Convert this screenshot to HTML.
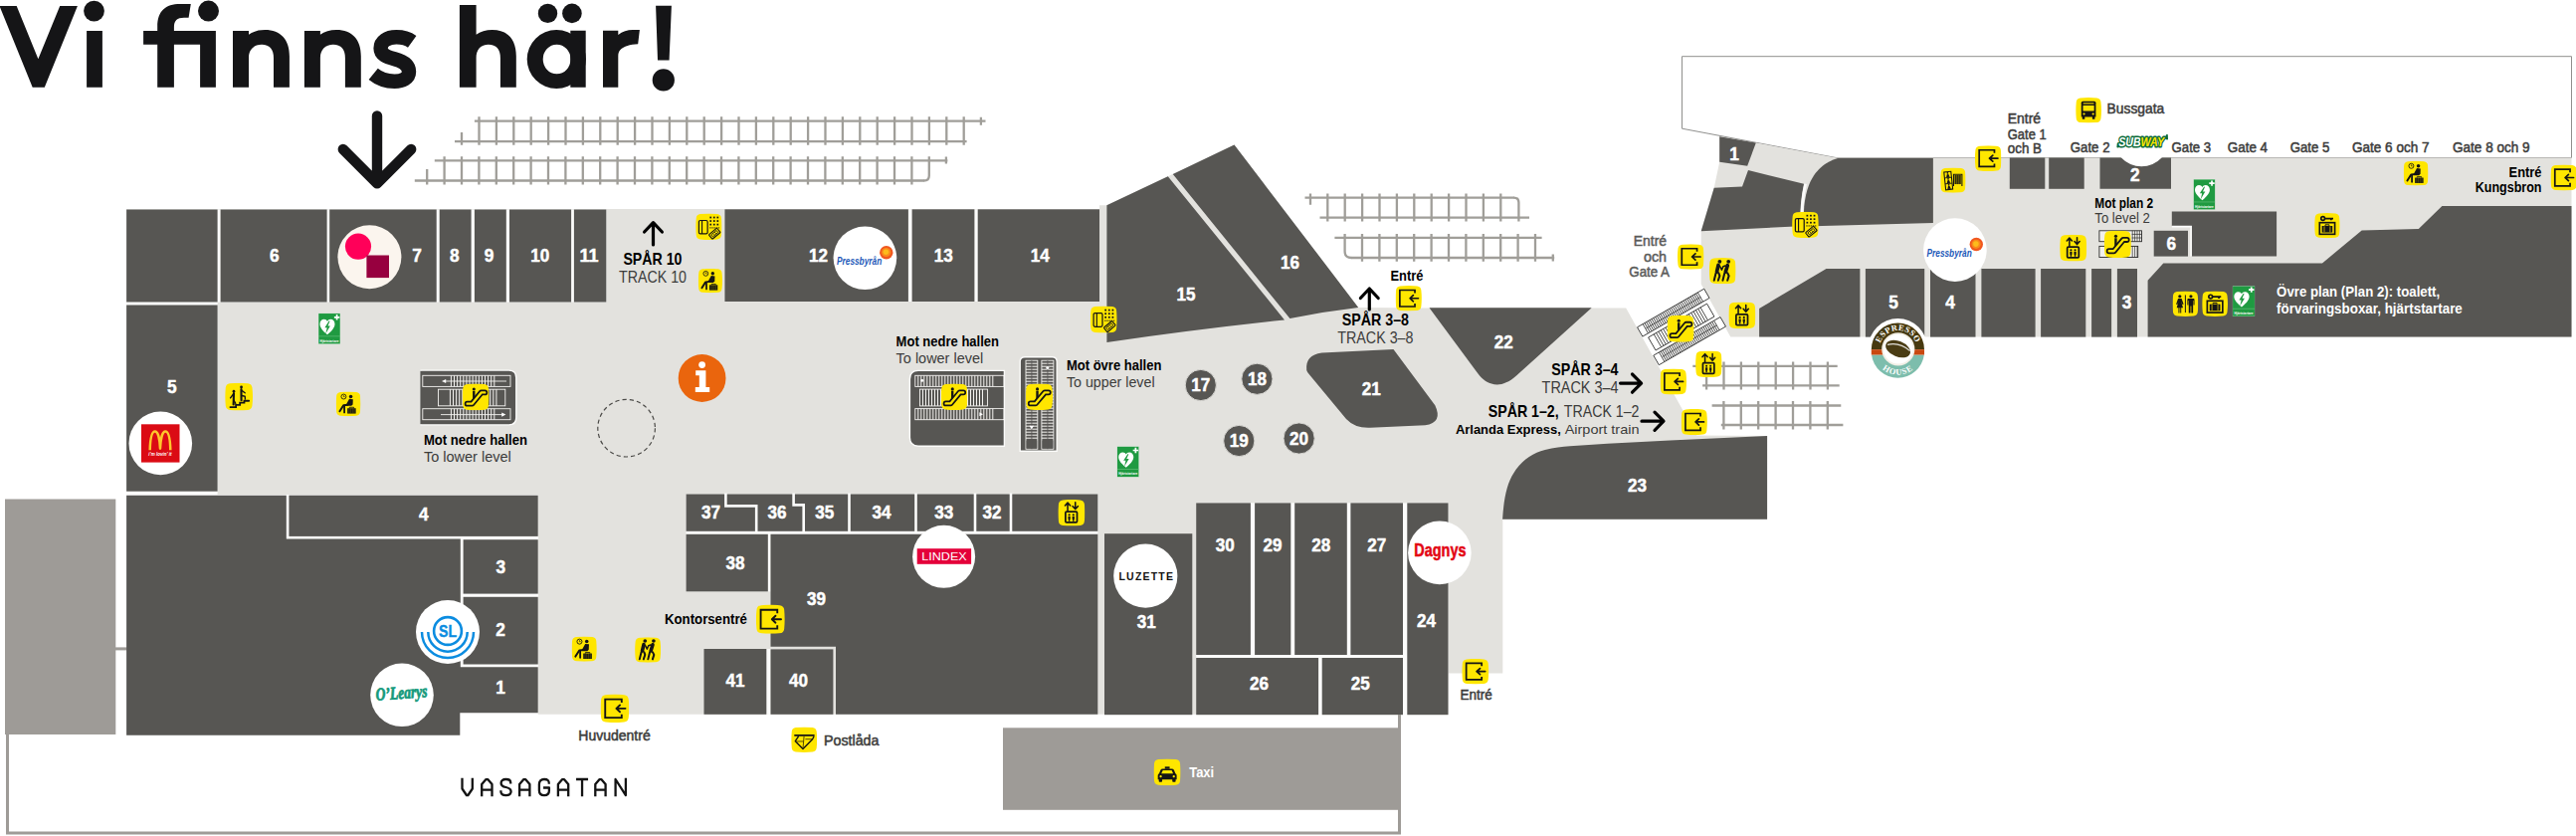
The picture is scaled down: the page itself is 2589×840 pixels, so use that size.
<!DOCTYPE html>
<html><head><meta charset="utf-8"><title>Vi finns här!</title>
<style>
html,body{margin:0;padding:0;background:#fff;}
body{width:2589px;height:840px;overflow:hidden;}
svg{display:block;font-family:"Liberation Sans",sans-serif;}
</style></head><body>
<svg width="2589" height="840" viewBox="0 0 2589 840">
<path d="M476.9 121.7H990.5M457 142.2H971.6M481.5 117.2V145.8M498.9 117.2V145.8M516.3 117.2V145.8M533.7 117.2V145.8M551.1 117.2V145.8M568.5 117.2V145.8M585.9 117.2V145.8M603.3 117.2V145.8M620.7 117.2V145.8M638.1 117.2V145.8M655.5 117.2V145.8M672.9 117.2V145.8M690.3 117.2V145.8M707.7 117.2V145.8M725.1 117.2V145.8M742.5 117.2V145.8M759.9 117.2V145.8M777.3 117.2V145.8M794.7 117.2V145.8M812.1 117.2V145.8M829.5 117.2V145.8M846.9 117.2V145.8M864.3 117.2V145.8M881.7 117.2V145.8M899.1 117.2V145.8M916.5 117.2V145.8M933.9 117.2V145.8M951.3 117.2V145.8M968.7 117.2V145.8M464 133V145.8M985.9 117.7V125.7" fill="none" stroke="#a09e99" stroke-width="2.3"/>
<path d="M436.8 161.3H952.4M416.8 181.5H929M446.6 157.2V185.5M464 157.2V185.5M481.4 157.2V185.5M498.8 157.2V185.5M516.2 157.2V185.5M533.6 157.2V185.5M551 157.2V185.5M568.4 157.2V185.5M585.8 157.2V185.5M603.2 157.2V185.5M620.6 157.2V185.5M638 157.2V185.5M655.4 157.2V185.5M672.8 157.2V185.5M690.2 157.2V185.5M707.6 157.2V185.5M725 157.2V185.5M742.4 157.2V185.5M759.8 157.2V185.5M777.2 157.2V185.5M794.6 157.2V185.5M812 157.2V185.5M829.4 157.2V185.5M846.8 157.2V185.5M864.2 157.2V185.5M881.6 157.2V185.5M899 157.2V185.5M916.4 157.2V185.5M429.2 170V185.5M950.9 157.4V164.5" fill="none" stroke="#a09e99" stroke-width="2.3"/>
<path d="M933.8 157.2V176.4Q933.8 181.5 928.6 181.5" fill="none" stroke="#a09e99" stroke-width="2.3"/>
<path d="M1311.5 198.6H1522M1326.5 218.6H1537M1334.3 194.4V222.5M1351.7 194.4V222.5M1369.1 194.4V222.5M1386.5 194.4V222.5M1403.9 194.4V222.5M1421.3 194.4V222.5M1438.7 194.4V222.5M1456.1 194.4V222.5M1473.5 194.4V222.5M1490.9 194.4V222.5M1508.3 194.4V222.5M1317 194.4V205.7" fill="none" stroke="#a09e99" stroke-width="2.3"/>
<path d="M1521.5 198.6Q1526.4 198.6 1526.4 203.6V222.5" fill="none" stroke="#a09e99" stroke-width="2.3"/>
<path d="M1341.4 238.9H1549.6M1358 259H1562.2M1369 235V262.8M1386.4 235V262.8M1403.8 235V262.8M1421.2 235V262.8M1438.6 235V262.8M1456 235V262.8M1473.4 235V262.8M1490.8 235V262.8M1508.2 235V262.8M1525.6 235V262.8M1543 235V262.8M1560.8 255.5V262.5" fill="none" stroke="#a09e99" stroke-width="2.3"/>
<path d="M1351.6 235V252.6Q1351.6 259 1358.2 259" fill="none" stroke="#a09e99" stroke-width="2.3"/>
<path d="M1701.3 367.8H1846.7M1711.1 387.3H1848.7M1715.1 363.4V391.4M1732.5 363.4V391.4M1749.9 363.4V391.4M1767.3 363.4V391.4M1784.7 363.4V391.4M1802.1 363.4V391.4M1819.5 363.4V391.4M1836.9 363.4V391.4" fill="none" stroke="#a09e99" stroke-width="2.3"/>
<path d="M1720.6 407.5H1850.3M1729.8 427H1852.4M1732.4 403V431.5M1749.8 403V431.5M1767.2 403V431.5M1784.6 403V431.5M1802 403V431.5M1819.4 403V431.5M1836.8 403V431.5" fill="none" stroke="#a09e99" stroke-width="2.3"/>
<rect x="5" y="501.5" width="111.3" height="236.5" fill="#9e9b97"/>
<rect x="116" y="650.4" width="11.5" height="3" fill="#9e9b97"/>
<path d="M7.5 738V837H1406.5V718" fill="none" stroke="#9e9b97" stroke-width="3"/>
<rect x="1008" y="731.3" width="399.9" height="82.5" fill="#9e9b97"/>
<path d="M1690.5 56.7H2584.5V158.5H1845.2L1690.5 129.2Z" fill="#fff" stroke="#8f8f8d" stroke-width="1"/>
<polygon points="127,210 1105,210 1105,206.3 1112.4,206.3 1173.8,177.3 1240.5,145.6 1365.2,308.9 1436,309.4 1634.2,309.4 1705.4,437.5 1776,438 1776,521.6 1510.3,521.6 1510.3,676.5 1455.5,676.5 1455.5,717.8 540.7,717.8 540.7,497 127,497" fill="#e3e2de"/>
<polygon points="1728.2,137.3 1764.8,143.4 1845.2,158.5 2584.5,158.5 2584.5,338.6 1739.3,338.6 1709.7,285.5 1709.7,232.3 1722.7,188.8 1728.2,162.7" fill="#e3e2de"/>
<circle cx="2152.3" cy="140" r="27.8" fill="#fff"/>
<rect x="127" y="210.5" width="482.3" height="93" fill="#fcfcfb"/>
<rect x="127" y="303" width="91.6" height="194.7" fill="#fcfcfb"/>
<rect x="290" y="497.7" width="250.7" height="218.6" fill="#fcfcfb"/>
<rect x="728.4" y="210.3" width="376.6" height="92.7" fill="#fcfcfb"/>
<rect x="689.6" y="496.5" width="413.7" height="40.5" fill="#fcfcfb"/>
<rect x="771.6" y="536.8" width="3" height="57.5" fill="#fcfcfb"/>
<rect x="770.2" y="652" width="4.4" height="65.8" fill="#fcfcfb"/>
<rect x="1202.2" y="505.4" width="253.3" height="212.8" fill="#fcfcfb"/>
<rect x="127.1" y="210.5" width="91.5" height="93" fill="#575653"/>
<rect x="221.6" y="210.5" width="107" height="93" fill="#575653"/>
<rect x="331.2" y="210.5" width="107.5" height="93" fill="#575653"/>
<rect x="441.7" y="210.5" width="31.9" height="93" fill="#575653"/>
<rect x="476.9" y="210.5" width="31.9" height="93" fill="#575653"/>
<rect x="512" y="210.5" width="62.1" height="93" fill="#575653"/>
<rect x="576.9" y="210.5" width="32.4" height="93" fill="#575653"/>
<rect x="728.4" y="210.3" width="184.5" height="92.7" fill="#575653"/>
<rect x="916.6" y="210.3" width="62.8" height="92.7" fill="#575653"/>
<rect x="982.7" y="210.3" width="122.3" height="92.7" fill="#575653"/>
<rect x="127.1" y="306.5" width="91.5" height="187.2" fill="#575653"/>
<polygon points="127.1,497.7 287.8,497.7 287.8,541.4 462.8,541.4 462.8,670.2 540.7,670.2 540.7,716.3 462.3,716.3 462.3,738.8 127.1,738.8" fill="#575653"/>
<rect x="290.4" y="497.7" width="250.3" height="41.2" fill="#575653"/>
<rect x="465.6" y="542.2" width="75.1" height="54.4" fill="#575653"/>
<rect x="465.6" y="599.8" width="75.1" height="67.7" fill="#575653"/>
<path d="M1112.4 206.3L1173.8 177.3L1291 321.4Q1200 331 1112.4 343.9Z" fill="#575653"/>
<path d="M1178.8 174.9L1240.5 145.6L1365.2 308.9Q1330 313 1296.4 320Z" fill="#575653"/>
<path d="M1313.2 372Q1311.5 356.5 1328.5 354.4L1400.5 351.1L1442.3 407.2Q1450.5 424.5 1432.3 427.3L1377 429.8Q1362 430.5 1353 421L1316.5 377Q1313.6 374 1313.2 372Z" fill="#575653"/>
<path d="M1436.5 309.2H1599.7L1524 377.6C1514 386.5 1506 387.6 1499 385.6C1492.5 383.6 1488.2 379.2 1484.2 373.7Z" fill="#575653"/>
<path d="M1510.1 521.7C1511.5 500 1514.5 486 1521.4 475.2C1529 463 1540 455.2 1552.8 452C1562 449.8 1570 448.8 1577.9 448.2L1615.6 445.7L1678.4 442.6L1776.1 437.9V521.7Z" fill="#575653"/>
<circle cx="1206.8" cy="387" r="15.6" fill="#575653" stroke="#d6d5d1" stroke-width="1"/>
<circle cx="1263.4" cy="380.8" r="15.6" fill="#575653" stroke="#d6d5d1" stroke-width="1"/>
<circle cx="1245.3" cy="443" r="15.6" fill="#575653" stroke="#d6d5d1" stroke-width="1"/>
<circle cx="1305.6" cy="440.5" r="15.6" fill="#575653" stroke="#d6d5d1" stroke-width="1"/>
<rect x="689.6" y="496.5" width="413.7" height="37.3" fill="#575653"/>
<path d="M729.4 495.5V508.4H760.2V535 M797.6 495.5V507.4H807.7V535 M853.5 495.5V535 M920.5 495.5V535 M980 495.5V535 M1016 495.5V535" fill="none" stroke="#fcfcfb" stroke-width="2.6"/>
<rect x="689.6" y="536.8" width="82.2" height="57.5" fill="#575653"/>
<polygon points="774.5,536.8 1103.3,536.8 1103.3,717.8 840,717.8 840,649.8 774.5,649.8" fill="#575653"/>
<rect x="774.5" y="652.4" width="62.9" height="65.4" fill="#575653"/>
<rect x="707.5" y="652" width="62.8" height="65.8" fill="#575653"/>
<rect x="1110" y="536.2" width="88.3" height="182" fill="#575653"/>
<rect x="1202.2" y="505.4" width="54.7" height="152.6" fill="#575653"/>
<rect x="1261.1" y="505.4" width="36.2" height="152.6" fill="#575653"/>
<rect x="1301.2" y="505.4" width="52.6" height="152.6" fill="#575653"/>
<rect x="1357.4" y="505.4" width="52.6" height="152.6" fill="#575653"/>
<rect x="1202.2" y="661" width="122.9" height="57.2" fill="#575653"/>
<rect x="1328.7" y="661" width="81.3" height="57.2" fill="#575653"/>
<rect x="1414.3" y="505.4" width="41.2" height="212.8" fill="#575653"/>
<polygon points="1728.2,137.3 1764.8,143.4 1756.2,166.8 1728.2,162.7" fill="#575653"/>
<path d="M1722.7 188.8L1751 187.4L1757 171L1813 184.7Q1808.5 205 1809.4 227.3L1709.7 232.3Z" fill="#575653"/>
<path d="M1813 227.6Q1810 170 1847 159.1H1942.9V224Z" fill="#575653"/>
<path d="M1814.6 184.7Q1810 205 1811.2 227.5" fill="none" stroke="#fbfbfa" stroke-width="2.6"/>
<rect x="2019.8" y="158.5" width="35.5" height="31.3" fill="#575653"/>
<rect x="2059.2" y="158.5" width="35.5" height="31.3" fill="#575653"/>
<path d="M2110.5 158.5H2132A27.8 27.8 0 0 0 2172.6 158.5H2182V189.7H2110.5Z" fill="#575653"/>
<rect x="2164.7" y="231.8" width="34.3" height="25.8" fill="#575653"/>
<polygon points="2182.8,212.4 2288.1,212.4 2288.1,257.6 2202.8,257.6 2202.8,226.9 2182.8,226.9" fill="#575653"/>
<path d="M2182.9 227.6H2202.1V257.6" fill="none" stroke="#fdfdfc" stroke-width="1.6"/>
<polygon points="1768.1,338.6 1768.1,310 1835.5,270 1869.4,270 1869.4,338.6" fill="#575653"/>
<rect x="1874.9" y="270" width="59.3" height="68.6" fill="#575653"/>
<rect x="1940" y="270" width="45.5" height="68.6" fill="#575653"/>
<rect x="1991.4" y="270" width="54.2" height="68.6" fill="#575653"/>
<rect x="2051.1" y="270" width="45.2" height="68.6" fill="#575653"/>
<rect x="2102.1" y="270" width="20" height="68.6" fill="#575653"/>
<rect x="2127.9" y="270" width="20.1" height="68.6" fill="#575653"/>
<polygon points="2158.6,338.6 2158.6,281.8 2174.3,264.4 2334,264.4 2373.7,231.6 2430.8,230.1 2454.4,206.9 2584.5,206.9 2584.5,338.6" fill="#575653"/>
<circle cx="629.6" cy="430.2" r="28.8" fill="none" stroke="#4b4a47" stroke-width="1.2" stroke-dasharray="4.2 3.1"/>
<defs>
<symbol id="entre" viewBox="0 0 26 26" preserveAspectRatio="none"><path d="M4.6 0.5Q13 -0.5 21.4 0.5Q25.1 0.9 25.5 4.6Q26.5 13 25.5 21.4Q25.1 25.1 21.4 25.5Q13 26.5 4.6 25.5Q0.9 25.1 0.5 21.4Q-0.5 13 0.5 4.6Q0.9 0.9 4.6 0.5Z" fill="#ffe600"/><path d="M19.2 7.6V4.6H4.2V21.4H19.2V18.4" fill="none" stroke="#151515" stroke-width="1.7" stroke-linejoin="miter"/><path d="M22.6 13H14.4M17.6 9.9L14.3 13L17.6 16.1" fill="none" stroke="#151515" stroke-linecap="round" stroke-linejoin="round" stroke-width="1.7"/></symbol>
<symbol id="lift" viewBox="0 0 26 26" preserveAspectRatio="none"><path d="M4.6 0.5Q13 -0.5 21.4 0.5Q25.1 0.9 25.5 4.6Q26.5 13 25.5 21.4Q25.1 25.1 21.4 25.5Q13 26.5 4.6 25.5Q0.9 25.1 0.5 21.4Q-0.5 13 0.5 4.6Q0.9 0.9 4.6 0.5Z" fill="#ffe600"/><rect x="7.2" y="12" width="11.2" height="10.4" rx="1" fill="none" stroke="#151515" stroke-width="1.7"/><path d="M9.3 11V3.4M6.8 6L9.3 3.1L11.8 6 M16.7 2.9V9.2M14.2 6.6L16.7 9.5L19.2 6.6" fill="none" stroke="#151515" stroke-linecap="round" stroke-linejoin="round" stroke-width="1.5"/><circle cx="10.8" cy="15" r="1.05" fill="#151515"/><circle cx="14.8" cy="15" r="1.05" fill="#151515"/><path d="M9.7 16.4h2.2v3h-.4v1.9h-1.4v-1.9h-.4z M13.7 16.4h2.2v3h-.4v1.9h-1.4v-1.9h-.4z" fill="#151515"/></symbol>
<symbol id="esc" viewBox="0 0 26 26" preserveAspectRatio="none"><path d="M4.6 0.5Q13 -0.5 21.4 0.5Q25.1 0.9 25.5 4.6Q26.5 13 25.5 21.4Q25.1 25.1 21.4 25.5Q13 26.5 4.6 25.5Q0.9 25.1 0.5 21.4Q-0.5 13 0.5 4.6Q0.9 0.9 4.6 0.5Z" fill="#ffe600"/><path d="M4.7 19.6H9.4L18.4 8.7H21.9" fill="none" stroke="#151515" stroke-width="5.7" stroke-linecap="round" stroke-linejoin="round"/><path d="M4.7 19.6H9.4L18.4 8.7H21.9" fill="none" stroke="#ffe600" stroke-width="2.3" stroke-linecap="round" stroke-linejoin="round"/><circle cx="11.2" cy="5.3" r="1.5" fill="#151515"/><path d="M10 7.2h2.3v5.6l-2.3 2.7z" fill="#151515"/></symbol>
<symbol id="wait" viewBox="0 0 26 26" preserveAspectRatio="none"><path d="M4.6 0.5Q13 -0.5 21.4 0.5Q25.1 0.9 25.5 4.6Q26.5 13 25.5 21.4Q25.1 25.1 21.4 25.5Q13 26.5 4.6 25.5Q0.9 25.1 0.5 21.4Q-0.5 13 0.5 4.6Q0.9 0.9 4.6 0.5Z" fill="#ffe600"/><circle cx="8.1" cy="5.3" r="2.6" fill="none" stroke="#151515" stroke-width="0.9"/><path d="M8.1 3.8V5.4H9.4" fill="none" stroke="#151515" stroke-width="0.7"/><circle cx="15.6" cy="5.2" r="1.85" fill="#151515"/><path d="M14 7.7L17.9 8.1L17.7 13.6L16.2 15.1H11.4L10.7 13.6Z" fill="#151515"/><path d="M12.4 13.9L7.9 14.4L3.9 20.7" fill="none" stroke="#151515" stroke-linecap="round" stroke-linejoin="round" stroke-width="2.1"/><path d="M8.8 15V22" fill="none" stroke="#151515" stroke-linecap="round" stroke-linejoin="round" stroke-width="1.9"/><rect x="12" y="17.6" width="8.9" height="5.6" fill="#151515"/><path d="M14.2 17.6V16.6H18.8V17.6" fill="none" stroke="#151515" stroke-width="0.9"/><path d="M13.8 18V23M15.6 18V23M17.4 18V23M19.2 18V23" stroke="#6e6400" stroke-width="0.6"/></symbol>
<symbol id="ticket" viewBox="0 0 26 26" preserveAspectRatio="none"><path d="M4.6 0.5Q13 -0.5 21.4 0.5Q25.1 0.9 25.5 4.6Q26.5 13 25.5 21.4Q25.1 25.1 21.4 25.5Q13 26.5 4.6 25.5Q0.9 25.1 0.5 21.4Q-0.5 13 0.5 4.6Q0.9 0.9 4.6 0.5Z" fill="#ffe600"/><rect x="3.2" y="6.8" width="8.6" height="13.2" rx="1.4" fill="none" stroke="#151515" stroke-width="1.2"/><path d="M6.3 6.8V20" stroke="#151515" stroke-width="1.1"/><rect x="14" y="3" width="1.7" height="1.7" fill="#151515"/><rect x="14" y="6.5" width="1.7" height="1.7" fill="#151515"/><rect x="14" y="10" width="1.7" height="1.7" fill="#151515"/><rect x="17.5" y="3" width="1.7" height="1.7" fill="#151515"/><rect x="17.5" y="6.5" width="1.7" height="1.7" fill="#151515"/><rect x="17.5" y="10" width="1.7" height="1.7" fill="#151515"/><rect x="21" y="3" width="1.7" height="1.7" fill="#151515"/><rect x="21" y="6.5" width="1.7" height="1.7" fill="#151515"/><rect x="21" y="10" width="1.7" height="1.7" fill="#151515"/><path d="M13.8 14.1H23.6" stroke="#151515" stroke-width="0.9" stroke-dasharray="1.4 0.7"/><g transform="rotate(-40 18.8 19.8)"><rect x="13.6" y="17" width="10.4" height="5.6" rx="0.8" fill="none" stroke="#151515" stroke-width="1.1"/><rect x="15.4" y="18.5" width="6.8" height="2.6" fill="none" stroke="#151515" stroke-width="0.8"/><path d="M17.6 18.5V21.1M19.8 18.5V21.1" stroke="#151515" stroke-width="0.6"/></g></symbol>
<symbol id="stairs" viewBox="0 0 26 26" preserveAspectRatio="none"><path d="M4.6 0.5Q13 -0.5 21.4 0.5Q25.1 0.9 25.5 4.6Q26.5 13 25.5 21.4Q25.1 25.1 21.4 25.5Q13 26.5 4.6 25.5Q0.9 25.1 0.5 21.4Q-0.5 13 0.5 4.6Q0.9 0.9 4.6 0.5Z" fill="#ffe600"/><path d="M4.9 22.8H10.2V20.7H14V18.7H18V16.9H22.4" fill="none" stroke="#151515" stroke-width="1.7" stroke-linecap="round"/><circle cx="8.2" cy="7.9" r="1.25" fill="#151515"/><path d="M8.2 9.6L7.9 20.4" fill="none" stroke="#151515" stroke-linecap="round" stroke-linejoin="round" stroke-width="2"/><path d="M7.8 10.6L5 14.2 M8 16L9.9 19.4" fill="none" stroke="#151515" stroke-linecap="round" stroke-linejoin="round" stroke-width="1.3"/><circle cx="15.3" cy="4" r="1.3" fill="#151515"/><path d="M15.2 6L15.3 16.4" fill="none" stroke="#151515" stroke-linecap="round" stroke-linejoin="round" stroke-width="2"/><path d="M15.6 7.2L18.7 9.4 M15.6 12L18.7 12.7L18.9 15.4" fill="none" stroke="#151515" stroke-linecap="round" stroke-linejoin="round" stroke-width="1.3"/></symbol>
<symbol id="people" viewBox="0 0 26 26" preserveAspectRatio="none"><path d="M4.6 0.5Q13 -0.5 21.4 0.5Q25.1 0.9 25.5 4.6Q26.5 13 25.5 21.4Q25.1 25.1 21.4 25.5Q13 26.5 4.6 25.5Q0.9 25.1 0.5 21.4Q-0.5 13 0.5 4.6Q0.9 0.9 4.6 0.5Z" fill="#ffe600"/><circle cx="10.2" cy="3.8" r="1.85" fill="#151515"/><circle cx="18.8" cy="3.8" r="1.85" fill="#151515"/><path d="M8.9 7.4L7.4 14 M17.9 7.6L16 14" fill="none" stroke="#151515" stroke-linecap="round" stroke-linejoin="round" stroke-width="3.6"/><path d="M6.4 15.6L4.7 22.6 M9.2 15.2L10.2 18L8.7 22.6 M14.9 15.6L13.2 22.6 M17.8 15.2L19.2 18L17.8 22.6" fill="none" stroke="#151515" stroke-linecap="round" stroke-linejoin="round" stroke-width="2"/><path d="M10.4 8.4L12.2 12.1L13.6 8.6L15.8 7.9" fill="none" stroke="#151515" stroke-linecap="round" stroke-linejoin="round" stroke-width="1.5"/></symbol>
<symbol id="gates" viewBox="0 0 26 26" preserveAspectRatio="none"><path d="M4.6 0.5Q13 -0.5 21.4 0.5Q25.1 0.9 25.5 4.6Q26.5 13 25.5 21.4Q25.1 25.1 21.4 25.5Q13 26.5 4.6 25.5Q0.9 25.1 0.5 21.4Q-0.5 13 0.5 4.6Q0.9 0.9 4.6 0.5Z" fill="#ffe600"/><g transform="rotate(-6 8.2 13.4)"><rect x="4.6" y="4.2" width="7.2" height="18.4" fill="none" stroke="#151515" stroke-width="1.1"/><path d="M4.6 10.3H11.8M4.6 16.4H11.8" stroke="#151515" stroke-width="0.9"/><circle cx="8.2" cy="5.6" r="0.9" fill="#151515"/><path d="M6.4 9.8L7.4 6.8H9L10 9.8Z" fill="#151515"/><circle cx="8.2" cy="11.7" r="0.9" fill="#151515"/><path d="M6.4 15.9L7.4 12.9H9L10 15.9Z" fill="#151515"/><circle cx="8.2" cy="17.8" r="0.9" fill="#151515"/><path d="M6.4 22L7.4 19H9L10 22Z" fill="#151515"/></g><path d="M13.6 19V6.9H22.2V19" fill="none" stroke="#151515" stroke-width="1.1"/><rect x="14.4" y="7.6" width="7" height="9.4" fill="#6e6400"/><path d="M15.8 7.6V17M17.9 7.6V17M20 7.6V17" stroke="#151515" stroke-width="0.8"/></symbol>
<symbol id="bus" viewBox="0 0 26 26" preserveAspectRatio="none"><path d="M4.6 0.5Q13 -0.5 21.4 0.5Q25.1 0.9 25.5 4.6Q26.5 13 25.5 21.4Q25.1 25.1 21.4 25.5Q13 26.5 4.6 25.5Q0.9 25.1 0.5 21.4Q-0.5 13 0.5 4.6Q0.9 0.9 4.6 0.5Z" fill="#ffe600"/><path d="M7.2 3.8H18.8Q20.4 3.8 20.4 5.4V19.8H5.6V5.4Q5.6 3.8 7.2 3.8Z" fill="#151515"/><rect x="6.6" y="19.4" width="2.6" height="2.8" rx="0.6" fill="#151515"/><rect x="16.8" y="19.4" width="2.6" height="2.8" rx="0.6" fill="#151515"/><rect x="7.6" y="5.5" width="10.8" height="1.1" fill="#ffe600"/><rect x="7.4" y="8" width="11.2" height="5.8" rx="0.6" fill="#ffe600"/><circle cx="8.4" cy="16.8" r="1.1" fill="#ffe600"/><circle cx="17.6" cy="16.8" r="1.1" fill="#ffe600"/></symbol>
<symbol id="taxi" viewBox="0 0 26 26" preserveAspectRatio="none"><path d="M4.6 0.5Q13 -0.5 21.4 0.5Q25.1 0.9 25.5 4.6Q26.5 13 25.5 21.4Q25.1 25.1 21.4 25.5Q13 26.5 4.6 25.5Q0.9 25.1 0.5 21.4Q-0.5 13 0.5 4.6Q0.9 0.9 4.6 0.5Z" fill="#ffe600"/><rect x="10.8" y="7.6" width="4.6" height="2.2" fill="#151515"/><path d="M8.6 9.6H17.6Q19 9.6 19.6 11L21 14.2Q22.2 14.8 22.2 16.2V20.2H4V16.2Q4 14.8 5.2 14.2L6.6 11Q7.2 9.6 8.6 9.6Z" fill="#151515"/><rect x="5" y="19.6" width="3.2" height="3" rx="0.8" fill="#151515"/><rect x="18" y="19.6" width="3.2" height="3" rx="0.8" fill="#151515"/><path d="M8.8 11.2H17.4L18.8 14.4H7.4Z" fill="#ffe600"/><circle cx="6.8" cy="17.2" r="1.1" fill="#ffe600"/><circle cx="19.4" cy="17.2" r="1.1" fill="#ffe600"/></symbol>
<symbol id="post" viewBox="0 0 26 26" preserveAspectRatio="none"><path d="M4.6 0.5Q13 -0.5 21.4 0.5Q25.1 0.9 25.5 4.6Q26.5 13 25.5 21.4Q25.1 25.1 21.4 25.5Q13 26.5 4.6 25.5Q0.9 25.1 0.5 21.4Q-0.5 13 0.5 4.6Q0.9 0.9 4.6 0.5Z" fill="#ffe600"/><path d="M3.1 8.5H23.4" stroke="#151515" stroke-width="1.6"/><path d="M7.5 9.2L4.1 14.4L11.8 22.4L21.4 12.4L22.9 9.4" fill="none" stroke="#151515" stroke-width="1.4" stroke-linejoin="round"/><path d="M4.6 14.7H12.6M14.2 12.4H20.9M12.9 9.3L11.8 22" fill="none" stroke="#3d3700" stroke-width="0.9"/></symbol>
<symbol id="wc" viewBox="0 0 26 26" preserveAspectRatio="none"><path d="M4.6 0.5Q13 -0.5 21.4 0.5Q25.1 0.9 25.5 4.6Q26.5 13 25.5 21.4Q25.1 25.1 21.4 25.5Q13 26.5 4.6 25.5Q0.9 25.1 0.5 21.4Q-0.5 13 0.5 4.6Q0.9 0.9 4.6 0.5Z" fill="#ffe600"/><path d="M13 4V22" stroke="#151515" stroke-width="1"/><circle cx="7.4" cy="5.4" r="1.6" fill="#151515"/><path d="M5.6 7.6H9.2L11.2 13.4L10 13.8L8.8 10.6L10.6 17H8.8V22.4H7.8V17H7V22.4H6V17H4.2L6 10.6L4.8 13.8L3.6 13.4Z" fill="#151515"/><circle cx="18.6" cy="5.4" r="1.6" fill="#151515"/><path d="M16 7.6H21.2Q22.2 7.6 22.2 8.6V14.2H21.2V9.6H20.8V22.4H19V15.4H18.2V22.4H16.4V9.6H16V14.2H15V8.6Q15 7.6 16 7.6Z" fill="#151515"/></symbol>
<symbol id="locker" viewBox="0 0 26 26" preserveAspectRatio="none"><path d="M4.6 0.5Q13 -0.5 21.4 0.5Q25.1 0.9 25.5 4.6Q26.5 13 25.5 21.4Q25.1 25.1 21.4 25.5Q13 26.5 4.6 25.5Q0.9 25.1 0.5 21.4Q-0.5 13 0.5 4.6Q0.9 0.9 4.6 0.5Z" fill="#ffe600"/><circle cx="8.6" cy="5.7" r="1.9" fill="none" stroke="#151515" stroke-width="1.7"/><path d="M10.4 5.7H19.2M17 5.7V7.6" stroke="#151515" stroke-width="1.8"/><rect x="5.2" y="10" width="15.6" height="12" fill="none" stroke="#151515" stroke-width="1.7"/><rect x="7.6" y="13.4" width="10.8" height="6.8" fill="#151515"/><path d="M11 13.4V12.2H15V13.4" fill="none" stroke="#151515" stroke-width="1"/><path d="M10 13.8V19.8M16 13.8V19.8" stroke="#ffe600" stroke-width="0.7"/></symbol>
<symbol id="aed" viewBox="0 0 22 31" preserveAspectRatio="none"><rect x="0" y="0" width="22" height="31" fill="#1f9a41" stroke="#dff0e2" stroke-width="0.5"/><path d="M9 21.4C3 16.4 1.5 13.4 1.5 10.6C1.5 7.8 3.5 6 5.7 6C7.3 6 8.4 6.8 9 8.1C9.6 6.8 10.7 6 12.3 6C14.5 6 16.5 7.8 16.5 10.6C16.5 13.4 15 16.4 9 21.4Z" fill="#fff"/><path d="M10.6 7.8L6.4 14.4H8.7L7.3 20.4L11.9 12.6H9.5L11.6 7.8Z" fill="#1f9a41"/><path d="M18.6 1.3V6.7M15.9 4H21.3" stroke="#fff" stroke-width="1.7"/><rect x="0" y="22.8" width="22" height="0.6" fill="#6cc27f"/><text x="1.6" y="29" font-size="3.6" font-weight="bold" fill="#fff" textLength="18.8" lengthAdjust="spacingAndGlyphs">Hjärtstartare</text></symbol>
</defs>
<path d="M423.2 372.1H511.5Q518.8 372.1 518.8 379.4V419.6Q518.8 426.9 511.5 426.9H423.2Z" fill="#575653" stroke="#fbfbfa" stroke-width="1.4"/>
<rect x="422.4" y="372.8" width="1.6" height="53.4" fill="#575653"/>
<rect x="424.8" y="377.3" width="88.2" height="11.1" fill="none" stroke="#f4f3f0" stroke-width="0.9"/>
<path d="M453.4 377.3V388.4M456.5 377.3V388.4M459.6 377.3V388.4M462.7 377.3V388.4M465.8 377.3V388.4M468.9 377.3V388.4M472 377.3V388.4M475.1 377.3V388.4M478.2 377.3V388.4M481.3 377.3V388.4M484.4 377.3V388.4M487.5 377.3V388.4M490.6 377.3V388.4M493.7 377.3V388.4M496.8 377.3V388.4" stroke="#f4f3f0" stroke-width="1.0" fill="none"/>
<path d="M509 383H447" stroke="#f4f3f0" stroke-width="0.9"/><path d="M444 383L448.2 380.9V385.1Z" fill="#fff"/>
<rect x="440.5" y="391.2" width="67.3" height="16.6" fill="none" stroke="#f4f3f0" stroke-width="0.9"/>
<path d="M452.4 391.2V407.8M455.5 391.2V407.8M458.6 391.2V407.8M461.7 391.2V407.8M464.8 391.2V407.8M467.9 391.2V407.8M471 391.2V407.8M474.1 391.2V407.8M477.2 391.2V407.8M480.3 391.2V407.8M483.4 391.2V407.8M486.5 391.2V407.8M489.6 391.2V407.8M492.7 391.2V407.8M495.8 391.2V407.8M498.9 391.2V407.8" stroke="#f4f3f0" stroke-width="1.0" fill="none"/>
<rect x="424.8" y="410.7" width="88.2" height="11" fill="none" stroke="#f4f3f0" stroke-width="0.9"/>
<path d="M453.4 410.7V421.7M456.5 410.7V421.7M459.6 410.7V421.7M462.7 410.7V421.7M465.8 410.7V421.7M468.9 410.7V421.7M472 410.7V421.7M475.1 410.7V421.7M478.2 410.7V421.7M481.3 410.7V421.7M484.4 410.7V421.7M487.5 410.7V421.7M490.6 410.7V421.7M493.7 410.7V421.7M496.8 410.7V421.7" stroke="#f4f3f0" stroke-width="1.0" fill="none"/>
<path d="M443 416.6H505" stroke="#f4f3f0" stroke-width="0.9"/><path d="M508.4 416.6L504.2 414.5V418.7Z" fill="#fff"/>
<use href="#esc" x="464.8" y="385.5" width="26.7" height="26.7"/>
<path d="M1009.4 372.4H923Q914.4 372.4 914.4 381V439.6Q914.4 448.2 923 448.2H1009.4Z" fill="#575653" stroke="#fbfbfa" stroke-width="1.4"/>
<rect x="919.8" y="377.3" width="89" height="11.1" fill="none" stroke="#f4f3f0" stroke-width="0.9"/>
<path d="M922.8 377.3V388.4M925.8 377.3V388.4M928.8 377.3V388.4M931.8 377.3V388.4M934.8 377.3V388.4M937.8 377.3V388.4M940.8 377.3V388.4M943.8 377.3V388.4M946.8 377.3V388.4M949.8 377.3V388.4M952.8 377.3V388.4M955.8 377.3V388.4M958.8 377.3V388.4M961.8 377.3V388.4M964.8 377.3V388.4M967.8 377.3V388.4M970.8 377.3V388.4M973.8 377.3V388.4M976.8 377.3V388.4M979.8 377.3V388.4M982.8 377.3V388.4M985.8 377.3V388.4M988.8 377.3V388.4M991.8 377.3V388.4M994.8 377.3V388.4M997.8 377.3V388.4" stroke="#f4f3f0" stroke-width="1.0" fill="none"/>
<rect x="1000.6" y="378" width="7.6" height="9.8" fill="#575653"/>
<rect x="924.5" y="391.1" width="68" height="16.8" fill="none" stroke="#f4f3f0" stroke-width="0.9"/>
<path d="M927.5 391.1V407.9M930.5 391.1V407.9M933.5 391.1V407.9M936.5 391.1V407.9M939.5 391.1V407.9M942.5 391.1V407.9M945.5 391.1V407.9M948.5 391.1V407.9M951.5 391.1V407.9M954.5 391.1V407.9M957.5 391.1V407.9M960.5 391.1V407.9M963.5 391.1V407.9M966.5 391.1V407.9M969.5 391.1V407.9M972.5 391.1V407.9M975.5 391.1V407.9M978.5 391.1V407.9M981.5 391.1V407.9M984.5 391.1V407.9M987.5 391.1V407.9" stroke="#f4f3f0" stroke-width="1.0" fill="none"/>
<rect x="919.8" y="410.6" width="89" height="11.1" fill="none" stroke="#f4f3f0" stroke-width="0.9"/>
<path d="M922.8 410.6V421.7M925.8 410.6V421.7M928.8 410.6V421.7M931.8 410.6V421.7M934.8 410.6V421.7M937.8 410.6V421.7M940.8 410.6V421.7M943.8 410.6V421.7M946.8 410.6V421.7M949.8 410.6V421.7M952.8 410.6V421.7M955.8 410.6V421.7M958.8 410.6V421.7M961.8 410.6V421.7M964.8 410.6V421.7M967.8 410.6V421.7M970.8 410.6V421.7M973.8 410.6V421.7M976.8 410.6V421.7M979.8 410.6V421.7M982.8 410.6V421.7M985.8 410.6V421.7M988.8 410.6V421.7M991.8 410.6V421.7M994.8 410.6V421.7M997.8 410.6V421.7" stroke="#f4f3f0" stroke-width="1.0" fill="none"/>
<rect x="1000.6" y="411.2" width="7.6" height="9.8" fill="#575653"/>
<circle cx="926.8" cy="382.4" r="1.4" fill="#fff"/><path d="M988 416.2L984.4 414.2V418.2Z" fill="#fff"/>
<use href="#esc" x="945.8" y="385.5" width="26.6" height="26.4"/>
<path d="M1025.2 453.2V363.6Q1025.2 358.8 1030 358.8H1057.4Q1062.2 358.8 1062.2 363.6V453.2Z" fill="#575653" stroke="#fbfbfa" stroke-width="1.4"/>
<rect x="1031" y="362.2" width="11.8" height="89" fill="none" stroke="#f4f3f0" stroke-width="0.9"/>
<path d="M1031 365.2H1042.8M1031 368.2H1042.8M1031 371.2H1042.8M1031 374.2H1042.8M1031 377.2H1042.8M1031 380.2H1042.8M1031 383.2H1042.8M1031 386.2H1042.8M1031 389.2H1042.8M1031 392.2H1042.8M1031 395.2H1042.8M1031 398.2H1042.8M1031 401.2H1042.8M1031 404.2H1042.8M1031 407.2H1042.8M1031 410.2H1042.8M1031 413.2H1042.8M1031 416.2H1042.8M1031 419.2H1042.8M1031 422.2H1042.8M1031 425.2H1042.8M1031 428.2H1042.8M1031 431.2H1042.8M1031 434.2H1042.8M1031 437.2H1042.8M1031 440.2H1042.8" stroke="#f4f3f0" stroke-width="1.0" fill="none"/>
<rect x="1031.6" y="442.6" width="10.6" height="8" fill="#575653"/>
<rect x="1046.9" y="362.2" width="12" height="89" fill="none" stroke="#f4f3f0" stroke-width="0.9"/>
<path d="M1046.9 365.2H1058.9M1046.9 368.2H1058.9M1046.9 371.2H1058.9M1046.9 374.2H1058.9M1046.9 377.2H1058.9M1046.9 380.2H1058.9M1046.9 383.2H1058.9M1046.9 386.2H1058.9M1046.9 389.2H1058.9M1046.9 392.2H1058.9M1046.9 395.2H1058.9M1046.9 398.2H1058.9M1046.9 401.2H1058.9M1046.9 404.2H1058.9M1046.9 407.2H1058.9M1046.9 410.2H1058.9M1046.9 413.2H1058.9M1046.9 416.2H1058.9M1046.9 419.2H1058.9M1046.9 422.2H1058.9M1046.9 425.2H1058.9M1046.9 428.2H1058.9M1046.9 431.2H1058.9M1046.9 434.2H1058.9M1046.9 437.2H1058.9M1046.9 440.2H1058.9" stroke="#f4f3f0" stroke-width="1.0" fill="none"/>
<rect x="1047.5" y="442.6" width="10.8" height="8" fill="#575653"/>
<path d="M1036.9 362.2V451.2M1052.9 362.2V451.2" stroke="#575653" stroke-width="0.8"/>
<circle cx="1052.8" cy="369.4" r="1.5" fill="#fff"/><path d="M1036.8 431.4L1034.6 427.8H1039Z" fill="#fff"/>
<use href="#esc" x="1030.9" y="385.5" width="27.1" height="26.4"/>
<g transform="translate(1689.1 330.4) rotate(-29.9)">
<rect x="-37" y="-23.1" width="77.5" height="10.7" fill="#fff" stroke="#2b2b2a" stroke-width="0.8"/>
<path d="M-30.5 -23.1V-12.4M-28.4 -23.1V-12.4M-26.4 -23.1V-12.4M-24.3 -23.1V-12.4M-22.3 -23.1V-12.4M-20.2 -23.1V-12.4M-18.2 -23.1V-12.4M-16.1 -23.1V-12.4M-14.1 -23.1V-12.4M-12 -23.1V-12.4M-10 -23.1V-12.4M-7.9 -23.1V-12.4M-5.9 -23.1V-12.4M-3.8 -23.1V-12.4M-1.8 -23.1V-12.4M0.3 -23.1V-12.4M2.3 -23.1V-12.4M4.4 -23.1V-12.4M6.4 -23.1V-12.4M8.5 -23.1V-12.4M10.5 -23.1V-12.4M12.6 -23.1V-12.4M14.6 -23.1V-12.4M16.7 -23.1V-12.4M18.7 -23.1V-12.4M20.8 -23.1V-12.4M22.8 -23.1V-12.4M24.9 -23.1V-12.4M26.9 -23.1V-12.4M29 -23.1V-12.4M31 -23.1V-12.4M33.1 -23.1V-12.4" stroke="#2b2b2a" stroke-width="0.75" fill="none"/>
<rect x="-32.5" y="-8.7" width="68" height="14.9" fill="#fff" stroke="#2b2b2a" stroke-width="0.8"/>
<path d="M-26 -8.7V6.2M-23.3 -8.7V6.2M-20.6 -8.7V6.2M-17.9 -8.7V6.2M-15.2 -8.7V6.2M-12.5 -8.7V6.2M-9.8 -8.7V6.2M-7.1 -8.7V6.2M-4.4 -8.7V6.2M-1.7 -8.7V6.2M1 -8.7V6.2M3.7 -8.7V6.2M6.4 -8.7V6.2M9.1 -8.7V6.2M11.8 -8.7V6.2M14.5 -8.7V6.2M17.2 -8.7V6.2M19.9 -8.7V6.2M22.6 -8.7V6.2M25.3 -8.7V6.2M28 -8.7V6.2" stroke="#2b2b2a" stroke-width="0.75" fill="none"/>
<rect x="-37" y="9.6" width="77.5" height="11" fill="#fff" stroke="#2b2b2a" stroke-width="0.8"/>
<path d="M-30.5 9.6V20.6M-28.4 9.6V20.6M-26.4 9.6V20.6M-24.3 9.6V20.6M-22.3 9.6V20.6M-20.2 9.6V20.6M-18.2 9.6V20.6M-16.1 9.6V20.6M-14.1 9.6V20.6M-12 9.6V20.6M-10 9.6V20.6M-7.9 9.6V20.6M-5.9 9.6V20.6M-3.8 9.6V20.6M-1.8 9.6V20.6M0.3 9.6V20.6M2.3 9.6V20.6M4.4 9.6V20.6M6.4 9.6V20.6M8.5 9.6V20.6M10.5 9.6V20.6M12.6 9.6V20.6M14.6 9.6V20.6M16.7 9.6V20.6M18.7 9.6V20.6M20.8 9.6V20.6M22.8 9.6V20.6M24.9 9.6V20.6M26.9 9.6V20.6M29 9.6V20.6M31 9.6V20.6M33.1 9.6V20.6" stroke="#2b2b2a" stroke-width="0.75" fill="none"/>
<path d="M-30 -17.7H33.5M-30 15.1H33.5" stroke="#2b2b2a" stroke-width="0.6"/>
</g>
<use href="#esc" x="1675.6" y="316.8" width="27" height="27"/>
<rect x="2109.9" y="231.8" width="42.6" height="10.9" fill="#f1f0ed" stroke="#2b2b2a" stroke-width="0.9"/>
<rect x="2109.9" y="247.4" width="38.8" height="11.1" fill="#f1f0ed" stroke="#2b2b2a" stroke-width="0.9"/>
<path d="M2143.2 231.8V242.7M2145.6 231.8V242.7M2148 231.8V242.7M2150.4 231.8V242.7M2142.6 235.4H2152.5M2142.6 239H2152.5 M2143.2 247.4V258.5M2145.6 247.4V258.5M2148 247.4V258.5" fill="none" stroke="#2b2b2a" stroke-width="0.7"/>
<use href="#esc" x="2114.8" y="231.8" width="27.1" height="27.2"/>
<use href="#ticket" x="699.2" y="214.6" width="26.3" height="26.4"/>
<use href="#wait" x="701.8" y="269.9" width="24.2" height="24.3"/>
<use href="#aed" x="320" y="314.8" width="22" height="31"/>
<use href="#stairs" x="226.2" y="384.7" width="27.8" height="27.8"/>
<use href="#wait" x="337.7" y="393.5" width="24.8" height="24.7"/>
<use href="#ticket" x="1095.8" y="307.6" width="26.9" height="26.9"/>
<use href="#aed" x="1122.7" y="448.5" width="22.1" height="30.9"/>
<use href="#lift" x="1063.4" y="501.9" width="27" height="26.6"/>
<use href="#entre" x="759.9" y="607.6" width="28.9" height="29.2"/>
<use href="#wait" x="574.6" y="639.5" width="25.2" height="25.2"/>
<use href="#people" x="638.1" y="640.3" width="26" height="25.4"/>
<use href="#entre" x="603.6" y="697.6" width="28.7" height="28.5"/>
<use href="#post" x="795.2" y="730.6" width="26" height="25.4"/>
<use href="#taxi" x="1159.5" y="762.5" width="27.1" height="26.8"/>
<use href="#entre" x="1469.3" y="661.9" width="26.9" height="25.5"/>
<use href="#entre" x="1402.6" y="287" width="26.3" height="25.5"/>
<use href="#entre" x="1668.6" y="370.4" width="26.4" height="26"/>
<use href="#entre" x="1689.7" y="410.9" width="26.2" height="26.1"/>
<use href="#lift" x="1704.1" y="352.5" width="26.5" height="26.5"/>
<use href="#lift" x="1737.4" y="303.6" width="27" height="26.6"/>
<use href="#entre" x="1686" y="245.2" width="26.5" height="25.6"/>
<use href="#people" x="1717.9" y="259" width="26.7" height="26.2"/>
<use href="#ticket" x="1801.1" y="212.8" width="26.7" height="26.1"/>
<use href="#gates" x="1950.2" y="168.5" width="25.4" height="25.3"/>
<use href="#entre" x="1984.9" y="146.2" width="26.5" height="25.8"/>
<use href="#bus" x="2086.2" y="98" width="25.8" height="25.6"/>
<use href="#aed" x="2204.5" y="180.1" width="21.9" height="30.7"/>
<use href="#lift" x="2070.2" y="235.8" width="27" height="26.8"/>
<use href="#wc" x="2183.5" y="292.5" width="25.8" height="25.5"/>
<use href="#locker" x="2213.2" y="292.5" width="25.8" height="25.5"/>
<use href="#aed" x="2243.8" y="287.2" width="22.4" height="30.8"/>
<use href="#locker" x="2326.2" y="214" width="25.5" height="25.2"/>
<use href="#wait" x="2415.7" y="161.7" width="24.8" height="24.9"/>
<use href="#entre" x="2563.5" y="165.6" width="26.5" height="25.8"/>
<circle cx="705.6" cy="380" r="23.9" fill="#ea650d"/><circle cx="705.6" cy="366.6" r="3.4" fill="#fff"/>
<path d="M699.2 372.2H709.4V389H713.2V394.1H698.8V389H702.8V377.3H699.2Z" fill="#fff"/>
<circle cx="371.4" cy="258.3" r="32" fill="#fbf5ee"/><circle cx="360" cy="247.7" r="13.1" fill="#ff0059"/><rect x="368.4" y="256.5" width="22.6" height="22.6" fill="#97003f"/>
<circle cx="161.3" cy="445.4" r="31.8" fill="#fff"/><rect x="142" y="426.3" width="38.5" height="38.3" fill="#db0b14"/>
<path d="M150.7 452.2C151 440 152.9 433.4 155.8 433.4C158.8 433.4 160.6 441 161 450.6C161.4 441 163.2 433.4 166.2 433.4C169.1 433.4 171 440 171.3 452.2" fill="none" stroke="#ffc72c" stroke-width="2.5" stroke-linejoin="round"/>
<text x="149.2" y="458.3" font-size="4.6" font-weight="bold" font-style="italic" fill="#fff" textLength="23.4" lengthAdjust="spacingAndGlyphs">i’m lovin’ it</text>
<circle cx="450" cy="635" r="32" fill="#fff"/><circle cx="450" cy="634" r="13.9" fill="none" stroke="#0b8ce0" stroke-width="2.6"/>
<path d="M430.3 635A19.7 19.7 0 0 0 469.7 635 M424 635A26 26 0 0 0 476 635" fill="none" stroke="#0b8ce0" stroke-width="2.5"/>
<text x="450" y="639.8" font-size="16" font-weight="bold" fill="#0b8ce0" stroke="#0b8ce0" stroke-width="0.4" text-anchor="middle" textLength="18" lengthAdjust="spacingAndGlyphs">SL</text>
<circle cx="404" cy="698.3" r="31.8" fill="#fff"/>
<text x="377.6" y="702" font-family="Liberation Serif,serif" font-style="italic" font-weight="bold" font-size="18" fill="#149a7c" stroke="#149a7c" stroke-width="0.8" textLength="52" lengthAdjust="spacingAndGlyphs" transform="rotate(-4 404 698)">O’Learys</text>
<circle cx="869.4" cy="259.3" r="31.8" fill="#fff"/>
<circle cx="890.8" cy="253.7" r="6.7" fill="#f1571f"/><circle cx="890.6" cy="253.5" r="4.6" fill="#f88a1c"/><circle cx="890.4" cy="253.3" r="2.8" fill="#fdbb1c"/>
<text x="841" y="266.4" font-style="italic" font-weight="bold" font-size="10.2" fill="#1c58b8" textLength="45.2" lengthAdjust="spacingAndGlyphs">Pressbyrån</text>
<circle cx="1964.9" cy="251.1" r="31.8" fill="#fff"/>
<circle cx="1986.3" cy="245.5" r="6.7" fill="#f1571f"/><circle cx="1986.1" cy="245.3" r="4.6" fill="#f88a1c"/><circle cx="1985.9" cy="245.1" r="2.8" fill="#fdbb1c"/>
<text x="1936.5" y="258.2" font-style="italic" font-weight="bold" font-size="10.2" fill="#1c58b8" textLength="45.2" lengthAdjust="spacingAndGlyphs">Pressbyrån</text>
<circle cx="948.6" cy="559.3" r="31.5" fill="#fff"/><rect x="921.7" y="551.2" width="54.4" height="15.6" fill="#e4003a"/>
<text x="926.2" y="563.2" font-size="11.5" fill="#fff" textLength="45.6" lengthAdjust="spacingAndGlyphs">LINDEX</text>
<circle cx="1151.3" cy="578.7" r="32.1" fill="#fff"/>
<text x="1124.5" y="583" font-size="10.5" font-weight="bold" fill="#111" textLength="54.5" lengthAdjust="spacing">LUZETTE</text>
<circle cx="1446.9" cy="555.4" r="31.8" fill="#fff"/>
<text x="1421.3" y="558.8" font-size="17.8" font-weight="bold" fill="#e30613" stroke="#e30613" stroke-width="0.5" textLength="52.2" lengthAdjust="spacingAndGlyphs">Dagnys</text>
<circle cx="1907.4" cy="349.6" r="29.6" fill="#fff"/>
<path d="M1880.8 351.2A26.6 26.6 0 0 1 1934 351.2Z" fill="#47390f"/>
<path d="M1881 356.4A26.6 26.6 0 0 0 1933.8 356.4Z" fill="#7dbdac"/>
<rect x="1880.8" y="351.2" width="53.2" height="5.3" fill="#c9480f"/>
<circle cx="1907.8" cy="350.8" r="16.6" fill="#f2efe6"/><circle cx="1907.8" cy="350.8" r="14.8" fill="#fff"/>
<ellipse cx="1907.6" cy="350.6" rx="13" ry="7.8" fill="#4a3c14" transform="rotate(22 1907.6 350.6)"/>
<path d="M1897 346.4Q1909 343.4 1919.6 352.6" fill="none" stroke="#fff" stroke-width="1.1" opacity="0.85"/>
<path id="ehTop" d="M1888.8 350.8A18.9 18.9 0 0 1 1926.6 350.8" fill="none"/><path id="ehBot" d="M1884 357A24 24 0 0 0 1931.2 357" fill="none"/>
<text font-family="Liberation Serif,serif" font-weight="bold" font-size="8.4" fill="#fff" letter-spacing="0.5"><textPath href="#ehTop" startOffset="50%" text-anchor="middle">ESPRESSO</textPath></text>
<text font-family="Liberation Serif,serif" font-weight="bold" font-size="8.4" fill="#fff" letter-spacing="1"><textPath href="#ehBot" startOffset="50%" text-anchor="middle">HOUSE</textPath></text>
<path d="M2128.6 144.2L2131.8 146.8L2128.2 147.6Z M2176.2 138.6L2178 135.6L2178.2 139.8Z" fill="#0b6b3a" stroke="#0b6b3a" stroke-width="1.6" stroke-linejoin="round"/>
<text x="2129.2" y="147.2" fill="#fff" textLength="22.6" font-size="13.6" font-weight="bold" font-style="italic" stroke="#0b6b3a" stroke-width="3" paint-order="stroke" stroke-linejoin="round" lengthAdjust="spacingAndGlyphs">SUB</text>
<text x="2151.6" y="147.2" fill="#ffe600" textLength="23.6" font-size="13.6" font-weight="bold" font-style="italic" stroke="#0b6b3a" stroke-width="3" paint-order="stroke" stroke-linejoin="round" lengthAdjust="spacingAndGlyphs">WAY</text>
<path d="M-0.5 6H16.7L38.4 59.2L60.2 6H77.9L44.8 87.8H32.7ZM87.1 31.1H102.9V87.8H87.1ZM158.2 87.8V27C158.2 11 166.5 4.1 181 4.1H191.8L189.6 17.7H185C178 17.7 174.9 20.6 174.9 27.4V31.1H216.9V87.8H201.1V44.8H174.9V87.8ZM144.1 31.1H158.2V44.8H144.1ZM234 87.8V31.1H250V34.8C254.2 31.8 259.7 30.1 266.2 30.1C282.2 30.1 290.9 40 290.9 56.5V87.8H275V58.5C275 49.5 271 44.8 263 44.8C255.3 44.8 250 50 250 58V87.8ZM305.9 87.8V31.1H321.9V34.8C326.1 31.8 331.6 30.1 338.1 30.1C354.1 30.1 362.8 40 362.8 56.5V87.8H346.9V58.5C346.9 49.5 342.9 44.8 334.9 44.8C327.2 44.8 321.9 50 321.9 58V87.8ZM461.9 87.8V5.1H478.6V34.8C482.8 31.8 488.3 30.1 494.8 30.1C510.8 30.1 518.8 40 518.8 56.5V87.8H502.9V58.5C502.9 49.5 498.9 44.8 490.9 44.8C483.2 44.8 478.6 50 478.6 58V87.8ZM573.3 30.7H588.7V87.8H573.3ZM606 87.8V30.7H621.3V34.9C625.5 31.8 630.5 30.2 636 30.1H642.9L641.2 44.2C633 44.5 627 46.5 623.5 50C622 51.5 621.3 53.5 621.3 56V87.8ZM659.1 5.8H674.9L672.6 60.5H661Z" fill="#151517"/>
<path fill-rule="evenodd" d="M529.7 59.55A29.6 29.45 0 1 0 588.9 59.55A29.6 29.45 0 1 0 529.7 59.55ZM545.7 59.55A13.9 14.75 0 1 0 573.5 59.55A13.9 14.75 0 1 0 545.7 59.55Z" fill="#151517"/>
<path d="M414.2 41.8C409.5 38.4 404 37.3 398.4 37.3C389 37.3 382.6 41.8 382.6 48.6C382.6 55 388.5 57.2 396.5 59.3C405 61.6 411 64.8 411 72C411 78.6 404.5 81.7 396.5 81.7C388.5 81.7 381 79.2 375.2 74.4" fill="none" stroke="#151517" stroke-width="14.4"/>
<circle cx="94.5" cy="11.1" r="10.4" fill="#151517"/>
<circle cx="209.5" cy="11.1" r="10.5" fill="#151517"/>
<circle cx="550.5" cy="13.4" r="9.7" fill="#151517"/>
<circle cx="574.9" cy="13.4" r="9.8" fill="#151517"/>
<circle cx="666.8" cy="80.4" r="11.1" fill="#151517"/>
<path d="M379 116.5V183 M344.8 150L379 184.2L413.2 150" fill="none" stroke="#151517" stroke-width="10.4" stroke-linecap="round" stroke-linejoin="round"/>
<text x="626.4" y="265.8" font-size="15.7" font-weight="bold" fill="#000" textLength="59" lengthAdjust="spacingAndGlyphs">SPÅR 10</text>
<text x="622" y="283.7" font-size="15.7" fill="#3c3c3b" textLength="68" lengthAdjust="spacingAndGlyphs">TRACK 10</text>
<text x="425.9" y="446.7" font-size="14" font-weight="bold" fill="#000" textLength="104.1" lengthAdjust="spacingAndGlyphs">Mot nedre hallen</text>
<text x="425.9" y="463.8" font-size="14" fill="#3c3c3b" textLength="87.9" lengthAdjust="spacingAndGlyphs">To lower level</text>
<text x="900.6" y="347.8" font-size="14" font-weight="bold" fill="#000" textLength="103.4" lengthAdjust="spacingAndGlyphs">Mot nedre hallen</text>
<text x="900.6" y="364.6" font-size="14" fill="#3c3c3b" textLength="87.6" lengthAdjust="spacingAndGlyphs">To lower level</text>
<text x="1071.9" y="372.2" font-size="14" font-weight="bold" fill="#000" textLength="95.5" lengthAdjust="spacingAndGlyphs">Mot övre hallen</text>
<text x="1071.9" y="389.2" font-size="14" fill="#3c3c3b" textLength="88.7" lengthAdjust="spacingAndGlyphs">To upper level</text>
<text x="1397.5" y="282" font-size="14" font-weight="bold" fill="#000" textLength="32.9" lengthAdjust="spacingAndGlyphs">Entré</text>
<text x="1348.7" y="327.4" font-size="15.7" font-weight="bold" fill="#000" textLength="67.3" lengthAdjust="spacingAndGlyphs">SPÅR 3–8</text>
<text x="1344.3" y="345.4" font-size="15.7" fill="#3c3c3b" textLength="76.2" lengthAdjust="spacingAndGlyphs">TRACK 3–8</text>
<text x="1559.2" y="377.3" font-size="15.7" font-weight="bold" fill="#000" textLength="67.3" lengthAdjust="spacingAndGlyphs">SPÅR 3–4</text>
<text x="1549.6" y="395.3" font-size="15.7" fill="#3c3c3b" textLength="76.9" lengthAdjust="spacingAndGlyphs">TRACK 3–4</text>
<text x="1495.8" y="418.6" font-size="15.7" font-weight="bold" fill="#000" textLength="70.9" lengthAdjust="spacingAndGlyphs">SPÅR 1–2,</text>
<text x="1571.8" y="418.6" font-size="15.7" fill="#3c3c3b" textLength="75.7" lengthAdjust="spacingAndGlyphs">TRACK 1–2</text>
<text x="1462.9" y="436" font-size="13.2" font-weight="bold" fill="#000" textLength="105.9" lengthAdjust="spacingAndGlyphs">Arlanda Express,</text>
<text x="1572.7" y="436" font-size="13.2" fill="#3c3c3b" textLength="74.8" lengthAdjust="spacingAndGlyphs">Airport train</text>
<text x="1641.8" y="247.3" font-size="14" fill="#5b5b5a" textLength="33.2" lengthAdjust="spacingAndGlyphs" stroke="#5b5b5a" stroke-width="0.5">Entré</text>
<text x="1652" y="263.2" font-size="14" fill="#5b5b5a" textLength="23" lengthAdjust="spacingAndGlyphs" stroke="#5b5b5a" stroke-width="0.5">och</text>
<text x="1637.3" y="277.8" font-size="14" fill="#5b5b5a" textLength="40.7" lengthAdjust="spacingAndGlyphs" stroke="#5b5b5a" stroke-width="0.5">Gate A</text>
<text x="668" y="627.4" font-size="14" font-weight="bold" fill="#000" textLength="82.9" lengthAdjust="spacingAndGlyphs">Kontorsentré</text>
<text x="581.3" y="744" font-size="14" fill="#3c3c3b" textLength="72.4" lengthAdjust="spacingAndGlyphs" stroke="#3c3c3b" stroke-width="0.5">Huvudentré</text>
<text x="828" y="748.5" font-size="14" fill="#3c3c3b" textLength="55.4" lengthAdjust="spacingAndGlyphs" stroke="#3c3c3b" stroke-width="0.5">Postlåda</text>
<text x="1195.2" y="781.3" font-size="14" font-weight="bold" fill="#fff" textLength="25" lengthAdjust="spacingAndGlyphs">Taxi</text>
<text x="1467.5" y="702.9" font-size="14" fill="#3c3c3b" textLength="32.3" lengthAdjust="spacingAndGlyphs" stroke="#3c3c3b" stroke-width="0.5">Entré</text>
<text x="2017.8" y="124.2" font-size="14" fill="#3c3c3b" textLength="33.2" lengthAdjust="spacingAndGlyphs" stroke="#3c3c3b" stroke-width="0.5">Entré</text>
<text x="2017.8" y="139.7" font-size="14" fill="#3c3c3b" textLength="38.8" lengthAdjust="spacingAndGlyphs" stroke="#3c3c3b" stroke-width="0.5">Gate 1</text>
<text x="2017.8" y="154.3" font-size="14" fill="#3c3c3b" textLength="34.2" lengthAdjust="spacingAndGlyphs" stroke="#3c3c3b" stroke-width="0.5">och B</text>
<text x="2117.6" y="114.1" font-size="14" fill="#3c3c3b" textLength="57.7" lengthAdjust="spacingAndGlyphs" stroke="#3c3c3b" stroke-width="0.5">Bussgata</text>
<text x="2080.8" y="152.7" font-size="14" fill="#3c3c3b" textLength="39.7" lengthAdjust="spacingAndGlyphs" stroke="#3c3c3b" stroke-width="0.5">Gate 2</text>
<text x="2182.5" y="152.7" font-size="14" fill="#3c3c3b" textLength="39.7" lengthAdjust="spacingAndGlyphs" stroke="#3c3c3b" stroke-width="0.5">Gate 3</text>
<text x="2238.7" y="152.7" font-size="14" fill="#3c3c3b" textLength="40.4" lengthAdjust="spacingAndGlyphs" stroke="#3c3c3b" stroke-width="0.5">Gate 4</text>
<text x="2301.7" y="152.7" font-size="14" fill="#3c3c3b" textLength="39.7" lengthAdjust="spacingAndGlyphs" stroke="#3c3c3b" stroke-width="0.5">Gate 5</text>
<text x="2364" y="152.7" font-size="14" fill="#3c3c3b" textLength="77.5" lengthAdjust="spacingAndGlyphs" stroke="#3c3c3b" stroke-width="0.5">Gate 6 och 7</text>
<text x="2465" y="152.7" font-size="14" fill="#3c3c3b" textLength="77.6" lengthAdjust="spacingAndGlyphs" stroke="#3c3c3b" stroke-width="0.5">Gate 8 och 9</text>
<text x="2105.3" y="208.5" font-size="14" font-weight="bold" fill="#000" textLength="58.8" lengthAdjust="spacingAndGlyphs">Mot plan 2</text>
<text x="2105.3" y="224.3" font-size="14" fill="#3c3c3b" textLength="55.6" lengthAdjust="spacingAndGlyphs">To level 2</text>
<text x="2521.6" y="177.8" font-size="14" font-weight="bold" fill="#000" textLength="32.9" lengthAdjust="spacingAndGlyphs">Entré</text>
<text x="2487.7" y="193" font-size="14" font-weight="bold" fill="#000" textLength="66.8" lengthAdjust="spacingAndGlyphs">Kungsbron</text>
<text x="2288.1" y="298" font-size="14" font-weight="bold" fill="#fff" textLength="164.1" lengthAdjust="spacingAndGlyphs">Övre plan (Plan 2): toalett,</text>
<text x="2288.1" y="315" font-size="14" font-weight="bold" fill="#fff" textLength="186.7" lengthAdjust="spacingAndGlyphs">förvaringsboxar, hjärtstartare</text>
<path transform="translate(463.4 781.9)" d="M1.1 1.1V10.6L5.5 17.1H7L11.4 10.6V1.1" fill="none" stroke="#131313" stroke-width="2.3" stroke-linejoin="round" stroke-linecap="square"/>
<path transform="translate(483.1 781.9)" d="M1.1 17.2V6.2L5.4 1.2H7.1L11.4 6.2V17.2M1.1 11.8H11.4" fill="none" stroke="#131313" stroke-width="2.3" stroke-linejoin="round" stroke-linecap="square"/>
<path transform="translate(502.2 781.9)" d="M11 4.4C11 2.2 9.4 1.1 6.25 1.1C3 1.1 1.4 2.6 1.4 5C1.4 7.6 3.2 8.4 6.25 9.1C9.6 9.9 11.4 10.8 11.4 13.4C11.4 16 9.4 17.2 6.25 17.2C3 17.2 1.2 15.8 1.2 13.4" fill="none" stroke="#131313" stroke-width="2.3" stroke-linejoin="round" stroke-linecap="square"/>
<path transform="translate(521 781.9)" d="M1.1 17.2V6.2L5.4 1.2H7.1L11.4 6.2V17.2M1.1 11.8H11.4" fill="none" stroke="#131313" stroke-width="2.3" stroke-linejoin="round" stroke-linecap="square"/>
<path transform="translate(540.6 781.9)" d="M11.2 4.6C11.2 2.2 9.4 1.1 6.4 1.1C3 1.1 1.3 3 1.3 6V12.3C1.3 15.3 3 17.2 6.4 17.2C9.6 17.2 11.3 15.4 11.3 12.6V9.6H6.6" fill="none" stroke="#131313" stroke-width="2.3" stroke-linejoin="round" stroke-linecap="square"/>
<path transform="translate(559.8 781.9)" d="M1.1 17.2V6.2L5.4 1.2H7.1L11.4 6.2V17.2M1.1 11.8H11.4" fill="none" stroke="#131313" stroke-width="2.3" stroke-linejoin="round" stroke-linecap="square"/>
<path transform="translate(578.8 781.9)" d="M1.4 1.1H11.1M6.25 1.1V17.2" fill="none" stroke="#131313" stroke-width="2.3" stroke-linejoin="round" stroke-linecap="square"/>
<path transform="translate(597.2 781.9)" d="M1.1 17.2V6.2L5.4 1.2H7.1L11.4 6.2V17.2M1.1 11.8H11.4" fill="none" stroke="#131313" stroke-width="2.3" stroke-linejoin="round" stroke-linecap="square"/>
<path transform="translate(617.5 781.9)" d="M1.1 17.2V1.1L11.4 17.2V1.1" fill="none" stroke="#131313" stroke-width="2.3" stroke-linejoin="round" stroke-linecap="square"/>
<path d="M656.5 246V224 M647.6 233L656.5 223.6L665.4 233" fill="none" stroke="#000" stroke-width="3.2" stroke-linecap="round" stroke-linejoin="round"/>
<path d="M1376.3 311V290 M1367.4 299.5L1376.3 290L1385.2 299.5" fill="none" stroke="#000" stroke-width="3.2" stroke-linecap="round" stroke-linejoin="round"/>
<path d="M1628.5 385.1H1649 M1640.5 376L1649.6 385.1L1640.5 394.2" fill="none" stroke="#000" stroke-width="3.2" stroke-linecap="round" stroke-linejoin="round"/>
<path d="M1650 423.2H1671 M1663 414.1L1672 423.2L1663 432.3" fill="none" stroke="#000" stroke-width="3.2" stroke-linecap="round" stroke-linejoin="round"/>
<text x="271.1" y="263.1" font-size="17.5" font-weight="bold" fill="#fff" stroke="#fff" stroke-width="0.45" textLength="9.6" lengthAdjust="spacingAndGlyphs">6</text>
<text x="414.2" y="263.1" font-size="17.5" font-weight="bold" fill="#fff" stroke="#fff" stroke-width="0.45" textLength="9.6" lengthAdjust="spacingAndGlyphs">7</text>
<text x="452" y="263.1" font-size="17.5" font-weight="bold" fill="#fff" stroke="#fff" stroke-width="0.45" textLength="9.6" lengthAdjust="spacingAndGlyphs">8</text>
<text x="486.7" y="263.1" font-size="17.5" font-weight="bold" fill="#fff" stroke="#fff" stroke-width="0.45" textLength="9.6" lengthAdjust="spacingAndGlyphs">9</text>
<text x="533.2" y="263.1" font-size="17.5" font-weight="bold" fill="#fff" stroke="#fff" stroke-width="0.45" textLength="19" lengthAdjust="spacingAndGlyphs">10</text>
<text x="582.5" y="263.1" font-size="17.5" font-weight="bold" fill="#fff" stroke="#fff" stroke-width="0.45" textLength="19" lengthAdjust="spacingAndGlyphs">11</text>
<text x="812.9" y="263.3" font-size="17.5" font-weight="bold" fill="#fff" stroke="#fff" stroke-width="0.45" textLength="19" lengthAdjust="spacingAndGlyphs">12</text>
<text x="938.8" y="263.3" font-size="17.5" font-weight="bold" fill="#fff" stroke="#fff" stroke-width="0.45" textLength="19" lengthAdjust="spacingAndGlyphs">13</text>
<text x="1035.8" y="263.3" font-size="17.5" font-weight="bold" fill="#fff" stroke="#fff" stroke-width="0.45" textLength="19" lengthAdjust="spacingAndGlyphs">14</text>
<text x="1182.5" y="301.8" font-size="17.5" font-weight="bold" fill="#fff" stroke="#fff" stroke-width="0.45" textLength="19" lengthAdjust="spacingAndGlyphs">15</text>
<text x="1287.1" y="270.3" font-size="17.5" font-weight="bold" fill="#fff" stroke="#fff" stroke-width="0.45" textLength="19" lengthAdjust="spacingAndGlyphs">16</text>
<text x="168.1" y="395.3" font-size="17.5" font-weight="bold" fill="#fff" stroke="#fff" stroke-width="0.45" textLength="9.6" lengthAdjust="spacingAndGlyphs">5</text>
<text x="421.1" y="523.3" font-size="17.5" font-weight="bold" fill="#fff" stroke="#fff" stroke-width="0.45" textLength="9.6" lengthAdjust="spacingAndGlyphs">4</text>
<text x="498.5" y="576" font-size="17.5" font-weight="bold" fill="#fff" stroke="#fff" stroke-width="0.45" textLength="9.6" lengthAdjust="spacingAndGlyphs">3</text>
<text x="498.2" y="638.8" font-size="17.5" font-weight="bold" fill="#fff" stroke="#fff" stroke-width="0.45" textLength="9.6" lengthAdjust="spacingAndGlyphs">2</text>
<text x="498.2" y="697.1" font-size="17.5" font-weight="bold" fill="#fff" stroke="#fff" stroke-width="0.45" textLength="9.6" lengthAdjust="spacingAndGlyphs">1</text>
<text x="1197.3" y="393.3" font-size="17.5" font-weight="bold" fill="#fff" stroke="#fff" stroke-width="0.45" textLength="19" lengthAdjust="spacingAndGlyphs">17</text>
<text x="1253.9" y="387.1" font-size="17.5" font-weight="bold" fill="#fff" stroke="#fff" stroke-width="0.45" textLength="19" lengthAdjust="spacingAndGlyphs">18</text>
<text x="1235.8" y="449.3" font-size="17.5" font-weight="bold" fill="#fff" stroke="#fff" stroke-width="0.45" textLength="19" lengthAdjust="spacingAndGlyphs">19</text>
<text x="1296.1" y="446.8" font-size="17.5" font-weight="bold" fill="#fff" stroke="#fff" stroke-width="0.45" textLength="19" lengthAdjust="spacingAndGlyphs">20</text>
<text x="1368.7" y="396.5" font-size="17.5" font-weight="bold" fill="#fff" stroke="#fff" stroke-width="0.45" textLength="19" lengthAdjust="spacingAndGlyphs">21</text>
<text x="1501.8" y="349.8" font-size="17.5" font-weight="bold" fill="#fff" stroke="#fff" stroke-width="0.45" textLength="19" lengthAdjust="spacingAndGlyphs">22</text>
<text x="1635.9" y="493.7" font-size="17.5" font-weight="bold" fill="#fff" stroke="#fff" stroke-width="0.45" textLength="19" lengthAdjust="spacingAndGlyphs">23</text>
<text x="704.9" y="521.3" font-size="17.5" font-weight="bold" fill="#fff" stroke="#fff" stroke-width="0.45" textLength="19" lengthAdjust="spacingAndGlyphs">37</text>
<text x="771.5" y="521.3" font-size="17.5" font-weight="bold" fill="#fff" stroke="#fff" stroke-width="0.45" textLength="19" lengthAdjust="spacingAndGlyphs">36</text>
<text x="819.2" y="521.3" font-size="17.5" font-weight="bold" fill="#fff" stroke="#fff" stroke-width="0.45" textLength="19" lengthAdjust="spacingAndGlyphs">35</text>
<text x="876.5" y="521.3" font-size="17.5" font-weight="bold" fill="#fff" stroke="#fff" stroke-width="0.45" textLength="19" lengthAdjust="spacingAndGlyphs">34</text>
<text x="939.3" y="521.3" font-size="17.5" font-weight="bold" fill="#fff" stroke="#fff" stroke-width="0.45" textLength="19" lengthAdjust="spacingAndGlyphs">33</text>
<text x="987.5" y="521.3" font-size="17.5" font-weight="bold" fill="#fff" stroke="#fff" stroke-width="0.45" textLength="19" lengthAdjust="spacingAndGlyphs">32</text>
<text x="729.5" y="571.6" font-size="17.5" font-weight="bold" fill="#fff" stroke="#fff" stroke-width="0.45" textLength="19" lengthAdjust="spacingAndGlyphs">38</text>
<text x="811.1" y="608" font-size="17.5" font-weight="bold" fill="#fff" stroke="#fff" stroke-width="0.45" textLength="19" lengthAdjust="spacingAndGlyphs">39</text>
<text x="729.5" y="689.7" font-size="17.5" font-weight="bold" fill="#fff" stroke="#fff" stroke-width="0.45" textLength="19" lengthAdjust="spacingAndGlyphs">41</text>
<text x="793.1" y="689.7" font-size="17.5" font-weight="bold" fill="#fff" stroke="#fff" stroke-width="0.45" textLength="19" lengthAdjust="spacingAndGlyphs">40</text>
<text x="1221.7" y="553.6" font-size="17.5" font-weight="bold" fill="#fff" stroke="#fff" stroke-width="0.45" textLength="19" lengthAdjust="spacingAndGlyphs">30</text>
<text x="1269.5" y="553.6" font-size="17.5" font-weight="bold" fill="#fff" stroke="#fff" stroke-width="0.45" textLength="19" lengthAdjust="spacingAndGlyphs">29</text>
<text x="1318.3" y="553.6" font-size="17.5" font-weight="bold" fill="#fff" stroke="#fff" stroke-width="0.45" textLength="19" lengthAdjust="spacingAndGlyphs">28</text>
<text x="1374.2" y="553.6" font-size="17.5" font-weight="bold" fill="#fff" stroke="#fff" stroke-width="0.45" textLength="19" lengthAdjust="spacingAndGlyphs">27</text>
<text x="1142.7" y="631.3" font-size="17.5" font-weight="bold" fill="#fff" stroke="#fff" stroke-width="0.45" textLength="19" lengthAdjust="spacingAndGlyphs">31</text>
<text x="1423.9" y="629.9" font-size="17.5" font-weight="bold" fill="#fff" stroke="#fff" stroke-width="0.45" textLength="19" lengthAdjust="spacingAndGlyphs">24</text>
<text x="1256.1" y="693.3" font-size="17.5" font-weight="bold" fill="#fff" stroke="#fff" stroke-width="0.45" textLength="19" lengthAdjust="spacingAndGlyphs">26</text>
<text x="1357.8" y="693.3" font-size="17.5" font-weight="bold" fill="#fff" stroke="#fff" stroke-width="0.45" textLength="19" lengthAdjust="spacingAndGlyphs">25</text>
<text x="1738.2" y="160.7" font-size="17.5" font-weight="bold" fill="#fff" stroke="#fff" stroke-width="0.45" textLength="9.6" lengthAdjust="spacingAndGlyphs">1</text>
<text x="1898.2" y="310.2" font-size="17.5" font-weight="bold" fill="#fff" stroke="#fff" stroke-width="0.45" textLength="9.6" lengthAdjust="spacingAndGlyphs">5</text>
<text x="1955.2" y="309.7" font-size="17.5" font-weight="bold" fill="#fff" stroke="#fff" stroke-width="0.45" textLength="9.6" lengthAdjust="spacingAndGlyphs">4</text>
<text x="2140.9" y="182.2" font-size="17.5" font-weight="bold" fill="#fff" stroke="#fff" stroke-width="0.45" textLength="9.6" lengthAdjust="spacingAndGlyphs">2</text>
<text x="2177.4" y="251" font-size="17.5" font-weight="bold" fill="#fff" stroke="#fff" stroke-width="0.45" textLength="9.6" lengthAdjust="spacingAndGlyphs">6</text>
<text x="2132.8" y="309.7" font-size="17.5" font-weight="bold" fill="#fff" stroke="#fff" stroke-width="0.45" textLength="9.6" lengthAdjust="spacingAndGlyphs">3</text>
</svg>
</body></html>
